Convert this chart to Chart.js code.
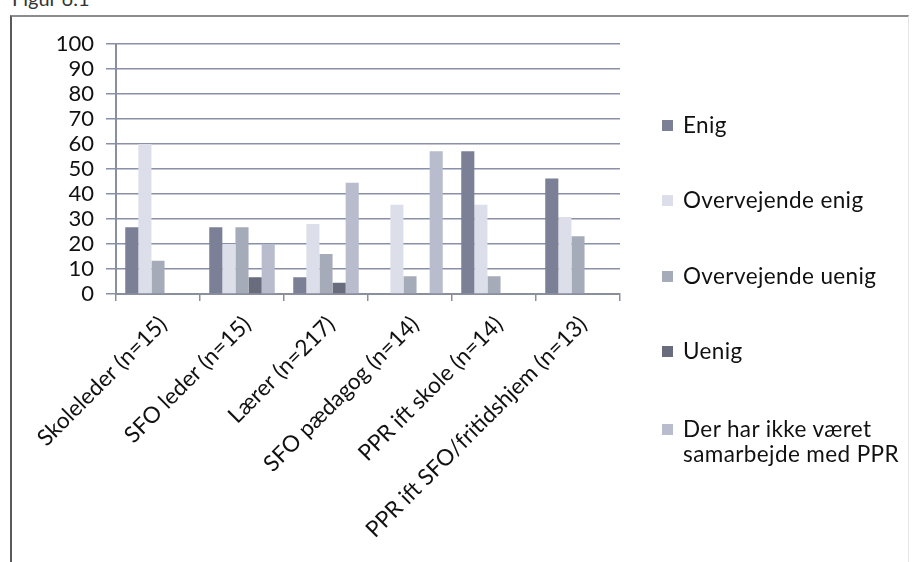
<!DOCTYPE html>
<html>
<head>
<meta charset="utf-8">
<script src="https://cdn.jsdelivr.net/npm/chart.js@4"></script>
<style>
  body { margin: 0; background: #fff; font-family: Lato, "Open Sans", sans-serif; }
  #wrap { position: relative; width: 914px; height: 562px; overflow: hidden; }
  #frame { position: absolute; left: 10px; top: 15px; width: 896px; height: 600px;
           border-left: 2px solid #5a5a5a; border-top: 2px solid #8c8c8c; border-right: 1px solid #e6e6e6; }
  #fig { position: absolute; left: 12px; top: -14px; font-size: 20px; color: #333; }
  #chart { position: absolute; left: 0; top: 0; }
  #legend { position: absolute; left: 662px; top: 0; font-size: 22.5px; letter-spacing: 0.4px; color: #111; }
  .item { position: absolute; left: 0; white-space: nowrap; line-height: 25px; }
  .box { position: absolute; left: 0; width: 11px; height: 11px; }
  .txt { position: absolute; left: 21px; }
</style>
</head>
<body>
<div id="wrap">
  <div id="fig">Figur 6.1</div>
  <div id="frame"></div>
  <canvas id="chart" width="914" height="562"></canvas>
  <div id="legend"></div>
</div>
<script>
const categories = ["Skoleleder (n=15)", "SFO leder (n=15)", "Lærer (n=217)", "SFO pædagog (n=14)", "PPR ift skole (n=14)", "PPR ift SFO/fritidshjem (n=13)"];
const seriesNames = ["Enig", "Overvejende enig", "Overvejende uenig", "Uenig", "Der har ikke været samarbejde med PPR"];
const enig = [26.7, 26.7, 6.7, 0, 57.1, 46.2];
const overvejendeEnig = [60, 20, 28, 35.7, 35.7, 30.8];
const overvejendeUenig = [13.3, 26.7, 16, 7.1, 7.1, 23.1];
const uenig = [0, 6.7, 4.5, 0, 0, 0];
const ingenSamarbejde = [0, 20, 44.5, 57.1, 0, 0];
const yTicks = [0, 10, 20, 30, 40, 50, 60, 70, 80, 90, 100];

const colors = ["#7b8096", "#dcdfe9", "#a6abba", "#686c7c", "#b8bccd"];
const values = [enig, overvejendeEnig, overvejendeUenig, uenig, ingenSamarbejde];

new Chart(document.getElementById("chart"), {
  type: "bar",
  data: {
    labels: categories,
    datasets: values.map((v, i) => ({
      label: seriesNames[i],
      data: v,
      backgroundColor: colors[i],
      categoryPercentage: 0.78,
      barPercentage: 1.0,
    })),
  },
  options: {
    responsive: false,
    animation: false,
    layout: { padding: { left: 0, top: 44, right: 294, bottom: 0 } },
    plugins: { legend: { display: false }, tooltip: { enabled: false } },
    scales: {
      x: {
        grid: { drawOnChartArea: false, drawTicks: true, tickLength: 7, color: "#8a8f9e", lineWidth: 1.5 },
        border: { color: "#8a8f9e", width: 2 },
        ticks: {
          color: "#111",
          font: { family: "Lato, 'Open Sans', sans-serif", size: 22.5 },
          minRotation: 45, maxRotation: 45, padding: 10, labelOffset: 5,
        },
        afterFit: (scale) => { scale.height = 268; },
      },
      y: {
        min: 0,
        max: 100,
        afterBuildTicks: (scale) => { scale.ticks = yTicks.map((v) => ({ value: v })); },
        grid: { color: "#8a90a8", lineWidth: 1.5, tickLength: 10 },
        border: { color: "#8a8f9e", width: 2 },
        ticks: { color: "#111", font: { family: "Lato, 'Open Sans', sans-serif", size: 22 }, padding: 12, autoSkip: false },
        afterFit: (scale) => { scale.width = 116; },
      },
    },
  },
});

// legend
const legend = document.getElementById("legend");
const legendY = [124, 199, 275, 350, 428];
seriesNames.forEach((name, i) => {
  const item = document.createElement("div");
  item.className = "item";
  item.style.top = (legendY[i] - 12) + "px";
  const box = document.createElement("div");
  box.className = "box";
  box.style.top = "8px";
  box.style.background = colors[i];
  const txt = document.createElement("div");
  txt.className = "txt";
  txt.innerHTML = i === 4 ? "Der har ikke været<br>samarbejde med PPR" : name;
  item.appendChild(box);
  item.appendChild(txt);
  legend.appendChild(item);
});
</script>
</body>
</html>
